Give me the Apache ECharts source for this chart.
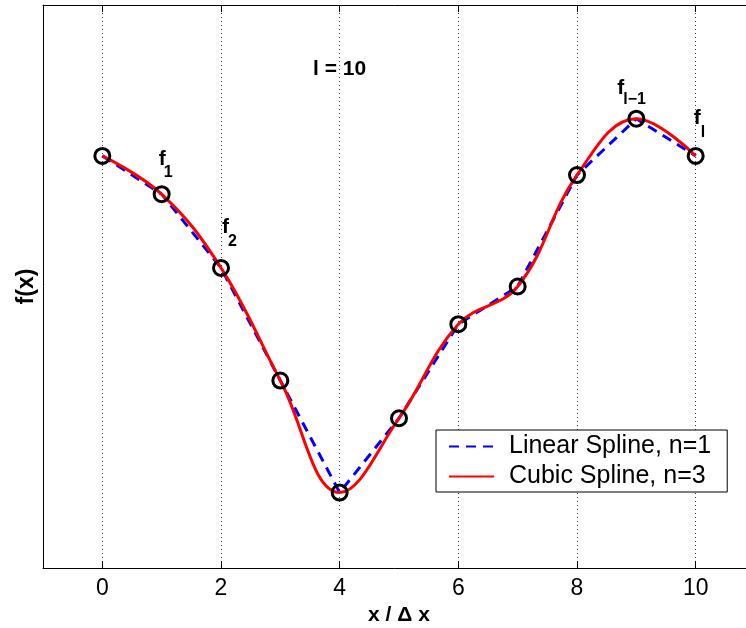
<!DOCTYPE html>
<html><head><meta charset="utf-8">
<script src="https://cdn.jsdelivr.net/npm/echarts@6/dist/echarts.min.js"></script>
<style>html,body{margin:0;padding:0;background:#fff}#c{width:746px;height:628px}</style>
</head><body><div id="c"></div>
<script>
// ---- data ----
const xValues = [0, 1, 2, 3, 4, 5, 6, 7, 8, 9, 10];
const fValues = [7.32, 6.64, 5.33, 3.33, 1.34, 2.66, 4.33, 5.00, 6.98, 7.98, 7.32];
const seriesNames = ['Linear Spline, n=1', 'Cubic Spline, n=3'];
const xLabelName = 'x / \u0394 x';
const yLabelName = 'f(x)';
const noteText = 'l = 10';
const notePoint = [4, 8.86];
const pointLabelIdx = [1, 2, 9, 10];
const pointLabelSub = ['1', '2', 'l\u22121', 'l'];

// ---- styles (offsets of annotation glyphs relative to their points) ----
const labelOffsets = [
  { f: [-3, -35], s: [2, -22] },
  { f: [1, -41], s: [7, -26] },
  { f: [-19, -31], s: [-13, -19] },
  { f: [-2, -38], s: [5, -23] }
];
const FONT = '"Liberation Sans", Helvetica, Arial, sans-serif';

const pts = xValues.map((x, i) => [x, fValues[i]]);
const chart = echarts.init(document.getElementById('c'), null, { renderer: 'canvas' });

const option = {
  animation: false,
  backgroundColor: '#fff',
  textStyle: { fontFamily: FONT },
  grid: { left: 43, top: 5, width: 712, height: 563, outerBoundsMode: 'none', containLabel: false },
  legend: {
    data: seriesNames,
    orient: 'vertical',
    left: 436, top: 430,
    backgroundColor: '#fff',
    borderColor: '#000', borderWidth: 1, borderRadius: 0,
    padding: [4, 16, 3, 12],
    itemWidth: 45, itemHeight: 14, itemGap: 5,
    itemStyle: { opacity: 0 },
    textStyle: { fontFamily: FONT, fontSize: 25, color: '#000', padding: [0, 0, 0, 10] }
  },
  xAxis: [{
    type: 'value', min: -1, max: 11, splitNumber: 6,
    name: xLabelName, nameLocation: 'middle', nameGap: 32,
    nameTextStyle: { fontFamily: FONT, fontSize: 21, fontWeight: 'bold', color: '#000' },
    axisLine: { show: true, onZero: false, lineStyle: { color: '#000', width: 1 } },
    axisTick: { show: true, inside: true, length: 7, lineStyle: { color: '#000' } },
    axisLabel: { fontFamily: FONT, fontSize: 23, color: '#000', margin: 9, showMinLabel: false, showMaxLabel: false },
    splitLine: { show: true, lineStyle: { color: '#333', width: 1, type: [1, 3] } }
  }, {
    type: 'value', min: -1, max: 11, splitNumber: 6, position: 'top',
    axisLine: { show: true, onZero: false, lineStyle: { color: '#000', width: 1 } },
    axisTick: { show: true, inside: true, length: 7, lineStyle: { color: '#000' } },
    axisLabel: { show: false },
    splitLine: { show: false }
  }],
  yAxis: {
    type: 'value', min: 0, max: 10,
    name: yLabelName, nameLocation: 'middle', nameGap: 5, nameRotate: 90,
    nameTextStyle: { fontFamily: FONT, fontSize: 23, fontWeight: 'bold', color: '#000' },
    axisLine: { show: true, onZero: false, lineStyle: { color: '#000', width: 1 } },
    axisTick: { show: false },
    axisLabel: { show: false },
    splitLine: { show: false }
  },
  series: [
    {
      name: seriesNames[0], type: 'line', data: pts, symbol: 'none', z: 2,
      itemStyle: { color: '#0000ff' },
      lineStyle: { color: '#0000ff', width: 3, type: [10, 7] }
    },
    {
      name: seriesNames[1], type: 'line', data: pts, symbol: 'none', smooth: 0.4, z: 3,
      itemStyle: { color: '#ff0000' },
      lineStyle: { color: '#ff0000', width: 3 }
    },
    {
      name: 'points', type: 'scatter', data: pts, symbol: 'circle', symbolSize: 15, z: 4,
      itemStyle: { color: 'rgba(0,0,0,0)', borderColor: '#000', borderWidth: 3, opacity: 1 },
      silent: true
    }
  ]
};
chart.setOption(option);

// annotations placed through the chart's own coordinate conversion
const graphics = [];
pointLabelIdx.forEach((idx, k) => {
  const p = chart.convertToPixel({ gridIndex: 0 }, pts[idx]);
  const o = labelOffsets[k];
  graphics.push({
    type: 'text', z: 10, x: p[0] + o.f[0], y: p[1] + o.f[1],
    style: { text: 'f', font: 'bold 21px ' + FONT, fill: '#000', textAlign: 'left', textVerticalAlign: 'middle' }
  });
  graphics.push({
    type: 'text', z: 10, x: p[0] + o.s[0], y: p[1] + o.s[1],
    style: { text: pointLabelSub[k], font: 'bold 16px ' + FONT, fill: '#000', textAlign: 'left', textVerticalAlign: 'middle' }
  });
});
const np = chart.convertToPixel({ gridIndex: 0 }, notePoint);
graphics.push({
  type: 'text', z: 10, x: np[0], y: np[1],
  style: { text: noteText, font: 'bold 21px ' + FONT, fill: '#000', textAlign: 'center', textVerticalAlign: 'middle' }
});
chart.setOption({ graphic: graphics });
</script>
</body></html>
